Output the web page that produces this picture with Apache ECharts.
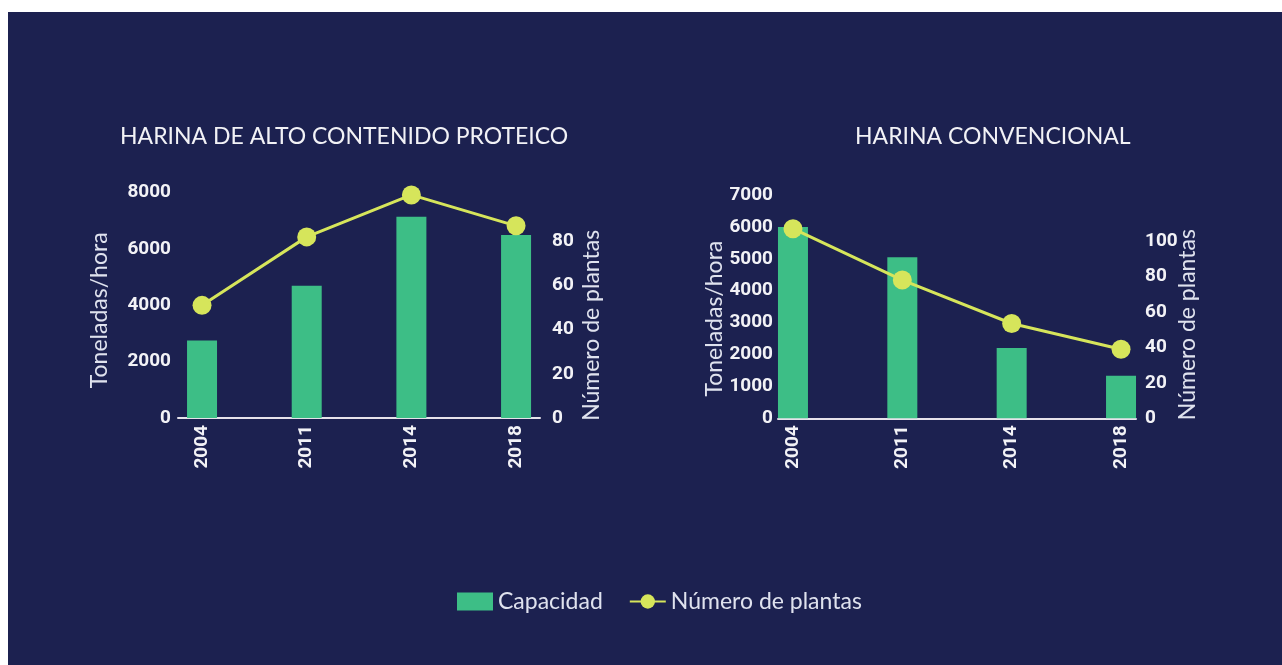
<!DOCTYPE html>
<html>
<head>
<meta charset="utf-8">
<script src="https://cdn.jsdelivr.net/npm/echarts@6/dist/echarts.min.js"></script>
<style>
  html, body { margin: 0; padding: 0; background: #ffffff; width: 1282px; height: 665px; overflow: hidden; }
  #chart { position: absolute; left: 8px; top: 12px; width: 1274px; height: 653px; background: #1c2150; }
</style>
</head>
<body>
<div id="chart"></div>
<script>
// ---- data ----
const categories = ['2004', '2011', '2014', '2018'];
const proteicoCapacidad = [2750, 4700, 7150, 6500];
const proteicoPlantas = [51, 82, 101, 87];
const convencionalCapacidad = [6000, 5050, 2200, 1330];
const convencionalPlantas = [107, 78, 53.5, 39];
const titles = ['HARINA DE ALTO CONTENIDO PROTEICO', 'HARINA CONVENCIONAL'];
const capName = 'Capacidad';
const plantName = 'Número de plantas';
const yLeftName = 'Toneladas/hora';

// ---- styles ----
const C_BAR = '#3dbe86';
const C_LINE = '#d6e55b';
const C_TEXT = '#f2f2f6';
const C_NAME = '#dfe2ee';
const C_AXIS = '#e6e2ea';
const tickFont = { color: C_TEXT, fontFamily: 'Roboto, "DejaVu Sans", sans-serif', fontWeight: 'bold', fontSize: 19 };
const nameFont = { color: C_NAME, fontFamily: 'Lato, "Open Sans", sans-serif', fontSize: 23 };

const chart = echarts.init(document.getElementById('chart'), null, { renderer: 'canvas' });

function plain(v) { return String(v); }
function hideAbove(limit) {
  return function (v) { return v >= limit ? '' : String(v); };
}

const option = {
  backgroundColor: 'transparent',
  animation: false,
  title: [
    { text: titles[0], left: 107, top: 108, textStyle: { color: C_TEXT, fontFamily: 'Lato, sans-serif', fontWeight: 'normal', fontSize: 23 } },
    { text: titles[1], left: 842, top: 108, textStyle: { color: C_TEXT, fontFamily: 'Lato, sans-serif', fontWeight: 'normal', fontSize: 23 } }
  ],
  legend: {
    data: [{ name: capName, icon: 'rect' }, { name: plantName }],
    left: 444,
    top: 573,
    itemWidth: 36,
    itemHeight: 18,
    itemGap: 26,
    textStyle: { color: C_NAME, fontFamily: 'Lato, sans-serif', fontSize: 23 }
  },
  grid: [
    { left: 141.7, width: 418.7, top: 180.7, height: 225.3 },
    { left: 170, width: 362, top: 180.7, height: 225.3 },
    { left: 730.3, width: 437.4, top: 183, height: 223.3 },
    { left: 770, width: 358, top: 183, height: 223.3 }
  ],
  xAxis: [
    { gridIndex: 0, type: 'category', data: categories, boundaryGap: true,
      axisLine: { show: false }, axisTick: { show: false },
      axisLabel: Object.assign({ rotate: 90, margin: 7 }, tickFont) },
    { gridIndex: 1, type: 'value', min: 0, max: 1, axisLabel: { show: false }, axisTick: { show: false }, splitLine: { show: false },
      axisLine: { show: true, lineStyle: { color: C_AXIS, width: 2 } } },
    { gridIndex: 2, type: 'category', data: categories, boundaryGap: true,
      axisLine: { show: false }, axisTick: { show: false },
      axisLabel: Object.assign({ rotate: 90, margin: 7 }, tickFont) },
    { gridIndex: 3, type: 'value', min: 0, max: 1, axisLabel: { show: false }, axisTick: { show: false }, splitLine: { show: false },
      axisLine: { show: true, lineStyle: { color: C_AXIS, width: 2 } } }
  ],
  yAxis: [
    // grid 0 hidden scales
    { gridIndex: 0, type: 'value', min: 0, max: 8000, interval: 2000, show: false },
    { gridIndex: 0, type: 'value', min: 0, max: 102, interval: 20, show: false, position: 'right' },
    // grid 1 visible axes
    { gridIndex: 1, type: 'value', min: 0, max: 8000, interval: 2000, position: 'left',
      axisLine: { show: false }, axisTick: { show: false }, splitLine: { show: false },
      axisLabel: Object.assign({ margin: 7, formatter: plain }, tickFont),
      name: yLeftName, nameLocation: 'middle', nameRotate: 90, nameGap: 67, nameMoveOverlap: false,
      nameTextStyle: Object.assign({ padding: [0, 10, 0, 0] }, nameFont) },
    { gridIndex: 1, type: 'value', min: 0, max: 102, interval: 20, position: 'right',
      axisLine: { show: false }, axisTick: { show: false }, splitLine: { show: false },
      axisLabel: Object.assign({ margin: 12, formatter: hideAbove(100) }, tickFont),
      name: plantName, nameLocation: 'middle', nameRotate: 90, nameGap: 40, nameMoveOverlap: false,
      nameTextStyle: Object.assign({ padding: [0, 40, 0, 0] }, nameFont) },
    // grid 2 hidden scales
    { gridIndex: 2, type: 'value', min: 0, max: 7000, interval: 1000, show: false },
    { gridIndex: 2, type: 'value', min: 0, max: 126, interval: 20, show: false, position: 'right' },
    // grid 3 visible axes
    { gridIndex: 3, type: 'value', min: 0, max: 7000, interval: 1000, position: 'left',
      axisLine: { show: false }, axisTick: { show: false }, splitLine: { show: false },
      axisLabel: Object.assign({ margin: 5, formatter: plain }, tickFont),
      name: yLeftName, nameLocation: 'middle', nameRotate: 90, nameGap: 52, nameMoveOverlap: false,
      nameTextStyle: Object.assign({ padding: [0, 24, 0, 0] }, nameFont) },
    { gridIndex: 3, type: 'value', min: 0, max: 126, interval: 20, position: 'right',
      axisLine: { show: false }, axisTick: { show: false }, splitLine: { show: false },
      axisLabel: Object.assign({ margin: 9, formatter: hideAbove(101) }, tickFont),
      name: plantName, nameLocation: 'middle', nameRotate: 90, nameGap: 40, nameMoveOverlap: false,
      nameTextStyle: Object.assign({ padding: [0, 36, 0, 0] }, nameFont) }
  ],
  series: [
    { name: capName, type: 'bar', xAxisIndex: 0, yAxisIndex: 0, data: proteicoCapacidad, barWidth: 30, itemStyle: { color: C_BAR }, z: 2 },
    { name: plantName, type: 'line', xAxisIndex: 0, yAxisIndex: 1, data: proteicoPlantas, symbol: 'circle', symbolSize: 19,
      lineStyle: { color: C_LINE, width: 3 }, itemStyle: { color: C_LINE }, z: 3 },
    { name: capName, type: 'bar', xAxisIndex: 2, yAxisIndex: 4, data: convencionalCapacidad, barWidth: 30, itemStyle: { color: C_BAR }, z: 2 },
    { name: plantName, type: 'line', xAxisIndex: 2, yAxisIndex: 5, data: convencionalPlantas, symbol: 'circle', symbolSize: 19,
      lineStyle: { color: C_LINE, width: 3 }, itemStyle: { color: C_LINE }, z: 3 }
  ]
};

chart.setOption(option);
</script>
</body>
</html>
